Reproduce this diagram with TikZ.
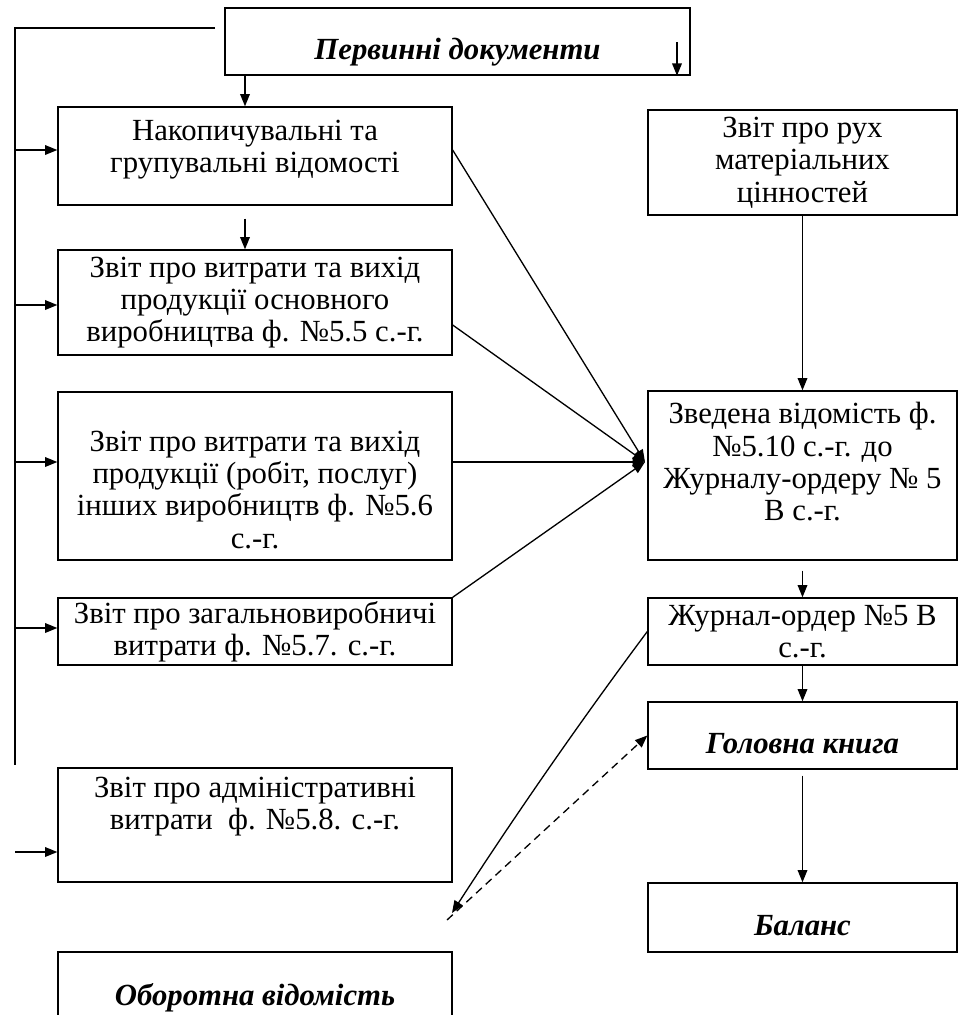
\documentclass[tikz,border=0pt]{standalone}
\usepackage{fontspec}
\setmainfont{Liberation Serif}
\usepackage{tikz}
\usetikzlibrary{arrows.meta}
\tikzset{
>={Triangle[length=7pt,width=5.5pt]},
  blok/.style={
    rectangle,
    % fill=black!10,
    draw=black, line width=0.8pt,
    inner sep=0pt,
    align=center,
    font=\fontsize{17.5}{18.4}\selectfont},
  leftblok/.style={blok, minimum width=7.88cm},
  rightblok/.style={blok, minimum width=6.18cm},
  titul/.style={
    font=\fontsize{17.5}{18.4}\selectfont\bfseries\itshape,
    text height=0.82cm, text depth=0.1cm},
  line/.style={draw, line width=0.75pt, ->},
}
\begin{document}
\begin{tikzpicture}[x=0.02cm, y=-0.02cm]
\clip (0,0) rectangle (960,1015);
\node[blok, titul, minimum width=9.3cm, minimum height=1.34cm] (prim) at (457.5,41.5) {Первинні документи};
\node[leftblok, minimum height=1.96cm, text depth=0.4cm] (accum) at (255,156) {Накопичувальні та\\групувальні відомості};
\node[leftblok, minimum height=2.1cm] (mainprod) at (255,302.5) {Звіт про витрати та вихід\\продукції основного\\виробництва ф. №5.5 с.-г.};
\node[leftblok, minimum height=3.36cm, text height=2.9cm] (otherprod) at (255,476) {Звіт про витрати та вихід\\продукції (робіт, послуг)\\інших виробництв ф. №5.6\\с.-г.};
\node[leftblok, minimum height=1.34cm] (overhead) at (255,631.5) {Звіт про загальновиробничі\\витрати ф. №5.7. с.-г.};
\node[leftblok, minimum height=2.28cm, text depth=0.88cm] (admin) at (255,825) {Звіт про адміністративні\\витрати~~ф. №5.8. с.-г.};
\node[leftblok, titul, minimum height=1.4cm] (turnover) at (255,987) {Оборотна відомість};
\node[rightblok, minimum height=2.1cm] (motion) at (802.5,162.5) {Звіт про рух\\матеріальних\\цінностей};
\node[rightblok, minimum height=3.38cm, text depth=0.55cm] (svod) at (802.5,475.5) {Зведена відомість ф.\\№5.10 с.-г. до\\Журналу-ордеру № 5\\В с.-г.};
\node[rightblok, minimum height=1.34cm] (journal) at (802.5,631.5) {Журнал-ордер №5 В\\с.-г.};
\node[rightblok, titul, minimum height=1.34cm] (ledger) at (802.5,735.5) {Головна книга};
\node[rightblok, titul, minimum height=1.38cm] (balance) at (802.5,917.5) {Баланс};
\coordinate (trunkStart) at (215,28);
\coordinate (trunkTop) at (15,28);
\coordinate (trunkEnd) at (15,765);
\coordinate (adminIn) at (15,852);
\coordinate (primIn) at (677,42);
\coordinate (hub) at (645,462);
\coordinate (turnIn) at (452,913);
\coordinate (turnOut) at (447,920);
\draw[line width=0.75pt] (trunkStart) -- (trunkTop) -- (trunkEnd);
\foreach \b/\y in {accum/150,mainprod/305,otherprod/462,overhead/628}{
  \draw[line] (trunkTop|-0,\y) -- (\b.west|-0,\y);
  }
\draw[line] (adminIn) -- (admin.west|-adminIn);
\draw[line] (primIn) -- (prim.south-|primIn);
\draw[line] (prim.south-|245,0) -- (accum.north-|245,0);
\draw[line, shorten <=0.26cm] (accum.south-|245,0) -- (mainprod.north-|245,0);
\draw[line] (accum.east|-0,150) -- (hub);
\draw[line] (mainprod.east|-0,325) -- (hub);
\draw[line] (otherprod.east|-hub) -- (hub);
\draw[line] (overhead.north east) -- (hub);
\draw[line] (motion.south) -- (svod.north);
\draw[line, shorten <=0.2cm] (svod.south) -- (journal.north);
\draw[line] (journal.south) -- (ledger.north);
\draw[line, shorten <=0.12cm] (ledger.south) -- (balance.north);
\draw[line] (journal.west) .. controls (579,723) and (514,817) .. (turnIn);
\draw[line, dashed, dash pattern=on 4.5pt off 3pt] (turnOut) -- (ledger.west);
\end{tikzpicture}
\end{document}
